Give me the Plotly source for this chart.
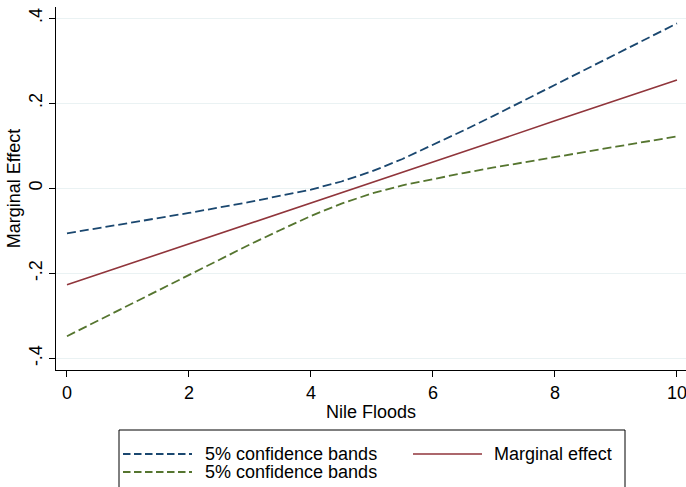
import plotly.graph_objects as go

# Data
nile_floods = [0, 1, 2, 3, 3.5, 4, 4.5, 5, 5.5, 6, 6.5, 7, 8, 9, 10]
marginal_effect = [-0.227, -0.179, -0.131, -0.082, -0.058, -0.034, -0.010, 0.014, 0.038, 0.062, 0.086, 0.110, 0.159, 0.207, 0.255]
upper_band = [-0.106, -0.082, -0.058, -0.032, -0.018, -0.003, 0.016, 0.040, 0.069, 0.102, 0.136, 0.171, 0.243, 0.316, 0.388]
lower_band = [-0.348, -0.276, -0.204, -0.132, -0.098, -0.065, -0.036, -0.012, 0.007, 0.022, 0.036, 0.049, 0.074, 0.098, 0.122]

y_tickvals = [-0.4, -0.2, 0, 0.2, 0.4]
y_ticktext = ["-.4", "-.2", "0", ".2", ".4"]
x_tickvals = [0, 2, 4, 6, 8, 10]
legend_labels = ["5% confidence bands", "Marginal effect", "5% confidence bands"]

BLUE = "#1a476f"
RED = "#90353b"
GREEN = "#55752f"
FONT = "Arial, Liberation Sans, sans-serif"
FS = 18

fig = go.Figure()
fig.add_trace(go.Scatter(x=nile_floods, y=upper_band, mode="lines", name=legend_labels[0],
                         line=dict(color=BLUE, width=1.8, dash="9px,4px"), showlegend=False))
fig.add_trace(go.Scatter(x=nile_floods, y=marginal_effect, mode="lines", name=legend_labels[1],
                         line=dict(color=RED, width=1.6), showlegend=False))
fig.add_trace(go.Scatter(x=nile_floods, y=lower_band, mode="lines", name=legend_labels[2],
                         line=dict(color=GREEN, width=1.8, dash="9px,4px"), showlegend=False))

# Manual Stata-style legend (paper coords)
L, R, T, B = 56, 686, 7, 370
W, H = R - L, B - T
def px(xp):
    return (xp - L) / W
def py(yp):
    return (B - yp) / H

ROW1, ROW2 = 454, 472
shapes = [
    dict(type="rect", xref="paper", yref="paper", x0=px(119), x1=px(625), y0=py(430), y1=py(500),
         line=dict(color="#000000", width=1), fillcolor="rgba(0,0,0,0)", layer="above"),
    dict(type="line", xref="paper", yref="paper", x0=px(123), x1=px(192), y0=py(ROW1), y1=py(ROW1),
         line=dict(color=BLUE, width=1.8, dash="7.5px,3.5px")),
    dict(type="line", xref="paper", yref="paper", x0=px(413), x1=px(482), y0=py(ROW1), y1=py(ROW1),
         line=dict(color=RED, width=1.6)),
    dict(type="line", xref="paper", yref="paper", x0=px(123), x1=px(192), y0=py(ROW2), y1=py(ROW2),
         line=dict(color=GREEN, width=1.8, dash="7.5px,3.5px")),
]
annotations = [
    dict(xref="paper", yref="paper", x=px(203), y=py(ROW1), text=legend_labels[0], showarrow=False,
         xanchor="left", yanchor="middle", font=dict(family=FONT, size=FS, color="#000")),
    dict(xref="paper", yref="paper", x=px(492), y=py(ROW1), text=legend_labels[1], showarrow=False,
         xanchor="left", yanchor="middle", font=dict(family=FONT, size=FS, color="#000")),
    dict(xref="paper", yref="paper", x=px(203), y=py(ROW2), text=legend_labels[2], showarrow=False,
         xanchor="left", yanchor="middle", font=dict(family=FONT, size=FS, color="#000")),
]

fig.update_layout(
    width=686, height=487, autosize=False,
    margin=dict(l=L, r=686 - R, t=T, b=487 - B, pad=0),
    paper_bgcolor="white", plot_bgcolor="white",
    font=dict(family=FONT, size=FS, color="#000"),
    shapes=shapes, annotations=annotations,
    showlegend=False,
)
fig.update_xaxes(
    range=[-0.180, 10.148], tickvals=x_tickvals, showgrid=False, zeroline=False,
    showline=True, linecolor="#000", linewidth=1.2, ticks="outside", ticklen=6, tickcolor="#000",
    tickfont=dict(size=FS), ticklabeloverflow="allow",
    title=dict(text="Nile Floods", font=dict(size=FS), standoff=3),
    automargin=False,
)
fig.update_yaxes(
    range=[-0.4275, 0.4266], tickvals=y_tickvals, ticktext=y_ticktext, tickangle=-90,
    showgrid=True, gridcolor="#eaf2f3", gridwidth=1.2, zeroline=False,
    showline=True, linecolor="#000", linewidth=1.2, ticks="outside", ticklen=6, tickcolor="#000",
    tickfont=dict(size=FS), ticklabeloverflow="allow",
    title=dict(text="Marginal Effect", font=dict(size=FS), standoff=0),
    automargin=False,
)

fig.write_html(
    "out.html",
    config={"displayModeBar": False},
    post_script="document.body.style.margin='0';document.body.style.overflow='hidden';",
)
